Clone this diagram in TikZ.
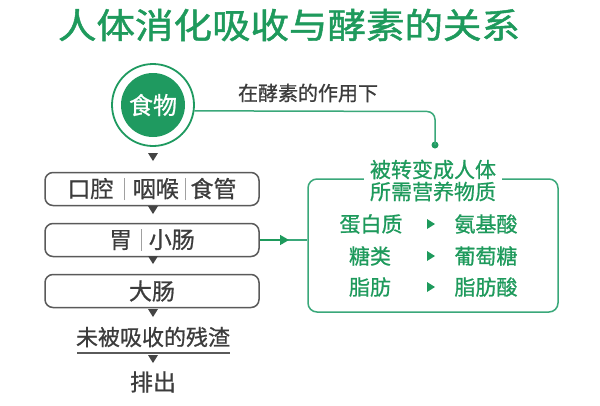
\documentclass[tikz,border=0pt]{standalone}
\usepackage{fontspec}
\setmainfont{Noto Sans CJK SC}[RawFeature={embolden=0.8}]
\newfontfamily\titlefont{Noto Sans CJK SC}[RawFeature={embolden=1.3}]
\usetikzlibrary{arrows.meta}
\definecolor{tgreen}{HTML}{1E9A5C}
\definecolor{cgreen}{HTML}{1F9A60}
\definecolor{lgreen}{HTML}{3AA87A}
\definecolor{textgray}{HTML}{3C3C3C}
\definecolor{boxgray}{HTML}{5A5A5A}
\definecolor{trigray}{HTML}{444444}
\definecolor{sepgray}{HTML}{A0A0A0}
\newcommand{\vsep}[2]{\hspace{#1em}{\color{sepgray}\rule[-0.12em]{0.9pt}{0.95em}}\hspace{#2em}}
\tikzset{
  stagebox/.style={draw=boxgray, line width=1.5pt, rounded corners=8pt,
    minimum width=214pt, minimum height=33pt, inner sep=0pt,
    text=textgray, font=\fontsize{23}{23}\selectfont},
  gline/.style={draw=lgreen, line width=1.5pt},
  gtext/.style={text=tgreen, font=\fontsize{21}{22}\selectfont, inner sep=1pt},
  graytext/.style={text=textgray, font=\fontsize{23}{23}\selectfont, inner sep=1pt},
  dtri/.pic={\fill[trigray] (-5,-4) -- (5,-4) -- (0,4) -- cycle;},
  rtri/.pic={\fill[tgreen] (-4,-5) -- (4,0) -- (-4,5) -- cycle;}
}
\begin{document}
\begin{tikzpicture}[x=1pt,y=-1pt]
\useasboundingbox[fill=white] (0,0) rectangle (600,405);

% title
\node[text=tgreen, font=\titlefont\fontsize{35}{35}\selectfont, inner sep=0pt, xscale=1.1] (title) at (289,25) {人体消化吸收与酵素的关系};

% food circle
\node[circle, draw=cgreen, line width=1.8pt, minimum size=82pt, inner sep=0pt] (ring) at (153,105) {};
\node[circle, fill=cgreen, minimum size=64pt, inner sep=0pt, text=white, font=\fontsize{24}{24}\selectfont] (food) at (ring.center) {食物};

% enzyme label and connector
\node[text=textgray, font=\fontsize{20}{20}\selectfont, inner sep=0pt] (lab) at (308,93) {在酵素的作用下};
\node[circle, fill=cgreen, minimum size=7pt, inner sep=0pt] (dot) at (435,145) {};
\coordinate (corner) at (435,111.5);
\draw[gline, rounded corners=8pt] (ring.-8) -- (corner) -- (dot.center);

% stage boxes
\node[stagebox] (b1) at (152,189) {口腔\vsep{0.45}{0.35}咽喉\vsep{0.25}{0.22}食管};
\node[stagebox] (b2) at (152,240) {胃\vsep{0.4}{0.28}小肠};
\node[stagebox] (b3) at (152,291) {大肠};

% down triangles
\pic at (153,157) {dtri};
\pic at (153,210) {dtri};
\pic at (153,260) {dtri};
\pic at (153,313) {dtri};

% residue
\node[graytext, font=\fontsize{22}{22}\selectfont] (resid) at (153,337) {未被吸收的残渣};
\coordinate (ul1) at (77,353);
\coordinate (ul2) at (230,353);
\draw[draw=boxgray, line width=1.3pt] (ul1) -- (ul2);
\pic at (153,359) {dtri};
\node[graytext] (out) at (153,382) {排出};

% big box
\node[draw=lgreen, line width=1.5pt, rounded corners=9pt, minimum width=250pt, minimum height=133pt, inner sep=0pt] (big) at (433,245.5) {};
\node[gtext, fill=white, align=center, inner xsep=6pt, inner ysep=0pt] (head) at (433,180.5) {被转变成人体\\所需营养物质};

% arrow box2 -> big
\coordinate (bigin) at (b2.east -| big.west);
\coordinate (tip) at (289,240);
\draw[gline] (b2.east) -- (bigin);
\draw[gline, -{Triangle[length=9pt,width=10pt]}, draw=tgreen, fill=tgreen] (b2.east) -- (tip);

% rows
\node[gtext] (l1) at (371,224) {蛋白质};
\node[gtext] (l2) at (370,256) {糖类};
\node[gtext] (l3) at (370,287) {脂肪};
\pic at (431,224) {rtri};
\pic at (431,256) {rtri};
\pic at (431,287) {rtri};
\node[gtext] (r1) at (486,224) {氨基酸};
\node[gtext] (r2) at (486,256) {葡萄糖};
\node[gtext] (r3) at (486,287) {脂肪酸};
\end{tikzpicture}
\end{document}
